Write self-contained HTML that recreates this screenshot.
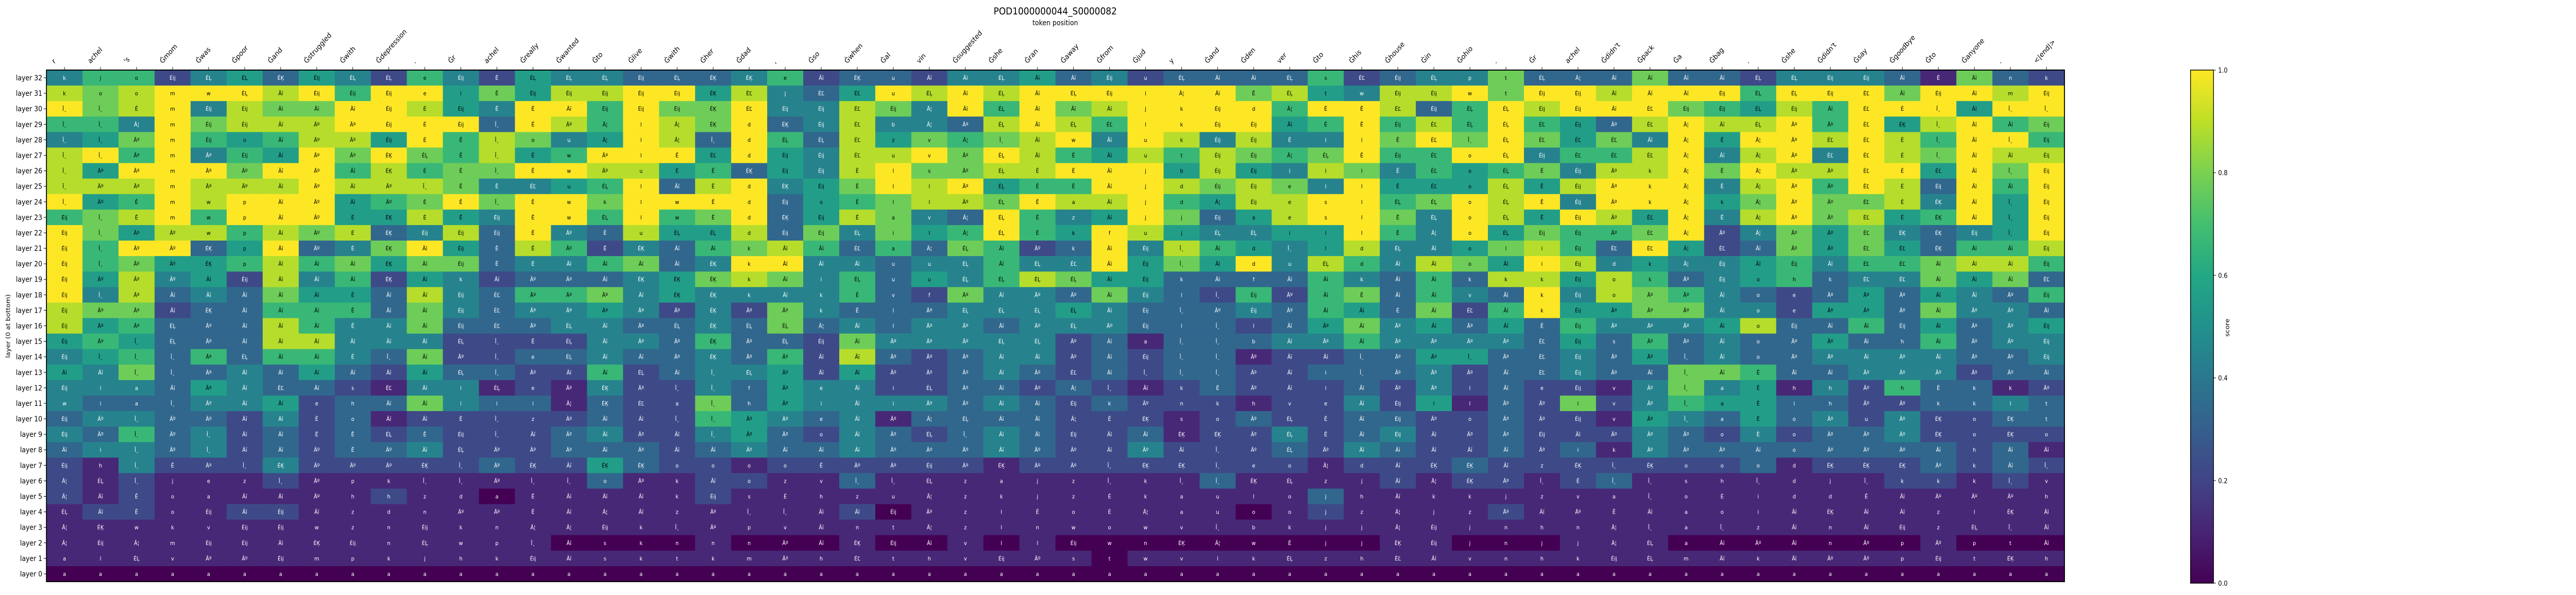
<!DOCTYPE html>
<html><head><meta charset="utf-8">
<style>
html,body{margin:0;padding:0;background:#fff;overflow:hidden;width:100%;height:100%;}
svg{display:block;width:100vw;height:100vh;}
text{font-family:"DejaVu Sans","Liberation Sans",sans-serif;}
</style></head>
<body>
<svg id="chart" viewBox="0 0 5600 1155" preserveAspectRatio="none" xmlns="http://www.w3.org/2000/svg">
<text x="2294" y="28" font-size="19" text-anchor="middle" fill="#000">POD1000000044_S0000082</text>
<text x="2294" y="49" font-size="14" text-anchor="middle" fill="#000">token position</text>
<text x="0" y="0" font-size="13" text-anchor="middle" fill="#000" transform="translate(22,633) rotate(-90)">layer (0 at bottom)</text>
<g id="cells"></g>
<g id="xticks"></g>
<g id="yticks"></g>
<rect x="101" y="136" width="4387" height="993" fill="none" stroke="#000" stroke-width="2"/>
<defs><linearGradient id="vir" x1="0" y1="1" x2="0" y2="0"></linearGradient></defs>
<g id="cbar"></g>
</svg>
<script>
const tokens=["r","achel","'s","Ġmom","Ġwas","Ġpoor","Ġand","Ġstruggled","Ġwith","Ġdepression",".","Ġr","achel","Ġreally","Ġwanted","Ġto","Ġlive","Ġwith","Ġher","Ġdad",",","Ġso","Ġwhen","Ġal","vin","Ġsuggested","Ġshe","Ġran","Ġaway","Ġfrom","Ġjud","y","Ġand","Ġden","ver","Ġto","Ġhis","Ġhouse","Ġin","Ġohio",".","Ġr","achel","Ġdidn't","Ġpack","Ġa","Ġbag",".","Ġshe","Ġdidn't","Ġsay","Ġgoodbye","Ġto","Ġanyone",".","<|end|>"];
const layers=[32,31,30,29,28,27,26,25,24,23,22,21,20,19,18,17,16,15,14,13,12,11,10,9,8,7,6,5,4,3,2,1,0];
const colorTicks=[0,0.2,0.4,0.6,0.8,1.0];
// score levels (0..9 maps to 0..1), one array per token column, rows layer 32 -> layer 0
const scoreLevels=[
[4,8,9,6,4,8,8,8,9,6,9,9,9,9,9,8,8,5,4,5,4,4,3,4,3,2,2,2,1,1,1,1,0],
[6,7,7,6,5,9,5,8,5,7,7,6,6,5,4,7,5,6,5,4,4,3,4,3,4,1,1,1,2,1,1,1,0],
[6,8,8,4,7,6,9,8,6,8,5,9,7,8,8,7,6,5,6,7,4,3,4,6,4,4,2,2,2,1,1,1,0],
[2,9,9,9,9,9,9,9,9,9,8,9,5,4,3,2,3,3,3,3,3,3,3,3,3,2,1,1,1,1,1,1,0],
[4,9,4,7,6,4,9,8,8,6,8,3,5,5,4,3,3,3,6,3,5,4,3,4,4,2,1,1,1,1,1,1,0],
[5,9,8,8,5,6,7,8,9,9,6,5,6,2,3,3,3,3,3,4,4,4,2,2,2,2,1,1,2,1,1,1,0],
[3,8,7,8,6,5,9,8,9,9,8,9,8,8,7,6,8,8,6,3,3,5,4,3,3,4,2,1,2,1,1,1,0],
[5,9,7,8,8,9,9,9,9,9,7,3,6,4,5,6,6,8,6,5,3,2,2,2,2,2,1,1,1,1,1,1,0],
[4,6,9,9,8,7,6,8,5,5,8,4,7,6,5,6,4,4,4,3,2,3,3,3,3,2,1,1,1,1,1,1,0],
[2,9,9,9,5,9,8,8,6,5,3,7,5,2,3,3,4,4,3,2,1,3,1,2,3,2,1,2,1,1,1,1,0],
[6,9,8,9,9,7,6,8,7,8,4,9,7,5,8,7,7,4,7,5,4,7,2,3,4,2,1,1,1,1,1,1,0],
[4,5,5,9,6,6,7,7,9,5,8,5,7,4,4,4,3,2,2,3,4,4,2,2,2,2,1,1,1,1,1,1,0],
[2,7,4,3,8,8,7,4,7,4,3,3,3,2,3,3,3,2,2,3,1,3,2,2,2,3,1,0,1,1,1,1,0],
[5,5,9,9,7,5,9,4,9,9,9,8,4,3,6,4,3,2,3,2,2,3,2,2,2,2,1,1,1,1,1,1,0],
[4,8,9,8,4,6,9,5,9,9,4,6,4,3,6,4,4,2,3,2,1,1,2,3,3,2,1,1,1,1,0,1,0],
[4,8,6,6,5,9,8,6,7,6,3,2,6,3,7,5,4,4,4,6,4,3,3,4,3,5,3,1,1,1,0,1,0],
[3,9,9,9,9,9,8,9,9,9,8,4,7,4,4,4,3,4,3,2,2,2,2,2,3,3,1,1,1,1,0,1,0],
[3,9,7,8,8,9,5,3,9,6,5,3,3,5,5,2,3,3,3,3,2,2,2,2,2,2,1,1,1,1,0,1,0],
[3,5,7,7,3,5,6,8,9,7,5,6,4,7,4,4,4,6,4,4,4,7,6,4,3,2,2,2,1,1,1,1,0],
[4,8,9,9,9,9,3,9,9,9,8,7,9,8,4,2,3,3,3,4,3,3,5,5,4,1,2,1,1,1,0,1,0],
[6,4,4,3,6,5,5,4,3,3,3,8,9,7,4,7,7,3,6,5,5,5,4,3,3,2,1,1,1,1,0,1,0],
[2,3,4,4,3,4,4,5,5,5,7,6,4,4,4,4,3,2,2,2,4,4,3,2,3,2,1,1,1,1,0,1,0],
[3,5,8,8,8,8,8,7,6,8,4,3,4,6,6,3,4,7,8,5,4,4,4,4,4,2,3,1,2,1,1,1,0],
[3,9,7,4,5,8,9,9,7,7,7,6,3,3,3,3,3,4,3,2,2,4,1,3,3,2,1,1,0,1,0,1,0],
[2,8,4,4,7,9,7,8,8,4,5,3,4,5,2,3,4,4,2,2,2,4,3,2,3,2,1,1,1,1,0,1,0],
[4,9,9,3,6,7,7,9,8,3,6,7,4,4,7,4,4,4,3,3,3,3,3,3,3,2,1,1,1,1,1,1,0],
[4,8,6,8,7,9,8,5,7,9,9,6,6,6,4,4,3,4,4,4,3,4,3,4,4,1,1,1,1,1,0,1,0],
[5,9,9,9,8,8,8,6,9,6,6,2,4,8,4,4,4,4,4,3,2,3,3,3,3,2,1,1,1,1,1,1,0],
[3,9,7,8,9,6,9,6,8,4,5,3,4,7,3,5,4,2,2,2,3,2,2,2,2,2,1,1,1,1,0,1,0],
[4,9,8,6,4,5,9,9,8,5,9,9,9,5,7,4,4,3,3,3,2,3,2,2,2,2,1,1,1,1,0,0,0],
[2,9,9,9,9,8,9,9,9,9,8,4,5,5,4,3,3,1,2,2,1,2,2,3,4,2,1,1,1,1,0,1,0],
[3,9,9,9,8,6,5,8,6,7,5,8,7,3,3,3,3,3,3,3,2,2,1,1,2,2,1,1,1,1,0,1,0],
[3,9,9,9,4,8,8,7,5,3,4,6,5,3,2,3,3,3,3,3,3,2,2,2,2,2,3,1,1,1,0,1,0],
[3,7,9,9,8,7,5,8,8,5,4,5,9,3,6,4,2,3,1,2,2,1,3,2,2,2,1,1,0,1,0,1,0],
[3,8,6,5,4,6,4,7,8,8,5,4,4,3,2,3,3,4,2,2,2,2,2,4,3,2,1,1,1,1,0,1,0],
[6,5,9,6,4,7,8,4,9,9,5,5,8,6,6,6,5,4,2,3,2,2,2,2,2,1,1,3,2,1,0,1,0],
[2,4,9,9,9,9,7,9,9,9,9,8,6,4,7,5,7,6,3,3,3,4,3,3,4,2,1,1,1,1,0,1,0],
[3,8,8,6,7,6,4,5,6,7,6,4,4,3,3,3,4,4,3,3,2,2,3,4,3,2,2,1,1,1,1,1,0],
[4,8,3,8,9,6,6,5,7,4,4,4,8,6,6,7,5,4,5,4,4,5,2,2,2,2,1,1,1,1,1,1,0],
[4,9,6,6,7,9,5,5,9,9,9,5,7,3,4,2,3,4,5,2,2,1,2,2,2,3,2,1,1,1,0,1,0],
[7,7,9,9,9,9,6,8,8,8,5,7,5,8,3,6,5,4,3,3,3,3,3,3,3,2,2,1,2,1,0,1,0],
[3,9,8,6,7,4,7,5,9,5,7,8,9,8,9,9,3,3,3,3,2,2,2,2,2,2,1,1,1,1,0,1,0],
[3,9,9,5,5,6,4,8,4,9,6,6,8,5,4,5,6,5,4,4,2,7,2,2,3,2,2,1,1,1,1,1,0],
[3,8,9,3,7,6,8,9,9,8,6,3,4,8,8,5,4,3,3,3,1,2,1,2,1,2,3,1,1,1,1,1,0],
[7,9,9,8,4,8,8,9,9,5,7,9,5,6,7,7,4,6,5,3,4,4,5,4,4,2,1,1,1,1,1,1,0],
[3,9,7,9,9,9,9,9,9,9,9,5,4,3,6,7,4,3,3,7,7,6,4,3,3,2,1,1,1,1,0,1,0],
[3,9,6,8,5,4,7,4,5,4,2,2,4,4,4,4,5,4,4,7,4,5,3,2,3,2,1,1,1,1,0,1,0],
[2,6,5,8,9,8,9,8,7,8,4,3,5,5,3,4,8,3,3,6,5,5,5,4,3,3,1,1,1,1,0,1,0],
[4,9,8,9,9,9,8,9,9,9,7,7,6,6,2,2,3,3,3,3,1,3,3,2,3,1,1,1,1,1,0,1,0],
[4,9,6,6,8,4,8,6,7,7,5,5,4,3,3,5,3,5,4,3,4,3,4,3,3,2,1,1,1,1,0,1,0],
[4,9,9,9,9,9,9,9,7,8,7,7,6,4,5,5,6,3,4,4,2,2,2,3,3,2,1,1,1,1,0,1,0],
[3,7,9,5,8,8,9,8,8,5,4,5,6,4,3,3,3,3,4,4,6,2,4,4,3,2,2,1,1,1,0,1,0],
[1,9,9,8,6,7,5,3,4,6,3,3,7,7,5,7,5,6,4,4,3,3,2,2,3,3,2,1,1,1,1,1,0],
[7,9,5,9,9,9,9,9,9,9,4,6,8,5,4,4,3,3,3,2,3,3,2,2,2,2,1,1,1,1,0,1,0],
[3,8,9,6,9,8,7,6,5,5,5,6,8,7,3,4,4,4,3,3,1,4,3,2,3,3,2,1,1,1,0,1,0],
[2,9,9,7,6,8,9,9,9,9,9,8,6,3,6,3,5,4,4,3,2,3,3,2,1,2,1,1,1,1,0,1,0]
];
// cell annotations per token column, rows layer 32 -> layer 0
const cellText=[
"k,k,Î¸,Î¸,Î¸,Î¸,Î¸,Î¸,Î¸,Éij,Éij,Éij,Éij,Éij,Éij,Éij,Éij,Éij,Éij,Âĭ,Éij,w,Éij,Éij,Âĭ,Éij,Ā¦,Ā¦,ÉĻ,Ā¦,Ā¦,a,a",
"j,o,Î¸,Î¸,Î¸,Î¸,Āº,Āº,Āº,Î¸,Î¸,Î¸,Î¸,Āº,Î¸,Āº,Āº,Āº,Î¸,Âĭ,i,i,Āº,Āº,i,h,ÉĻ,Âĭ,Âĭ,ÉĶ,Éij,l,a",
"o,o,Ê,Ā¦,Āº,Āº,Āº,Āº,Ê,Ê,Āº,Āº,Āº,Āº,Āº,Āº,Āº,Î¸,Î¸,Î¸,a,a,Î¸,Î¸,Î¸,Î¸,Î¸,Ê,Ê,w,Ā¦,ÉĻ,a",
"Éij,m,m,m,m,m,m,m,m,m,Āº,Āº,Āº,Āº,Âĭ,Âĭ,ÉĻ,ÉĻ,Î¸,Î¸,Âĭ,Î¸,Āº,Āº,Āº,Ê,j,o,o,k,m,v,a",
"ÉĻ,w,Éij,Éij,Éij,Āº,Āº,Āº,w,w,w,ÉĶ,ÉĶ,Âĭ,Âĭ,ÉĶ,Āº,Āº,Āº,Āº,Āº,Āº,Āº,Î¸,Î¸,Āº,e,a,Éij,v,Éij,Āº,a",
"ÉĻ,ÉĻ,Éij,Éij,o,Éij,Āº,Āº,p,p,p,p,p,Éij,Âĭ,Âĭ,Âĭ,Âĭ,ÉĻ,Âĭ,Âĭ,Âĭ,Âĭ,Âĭ,Âĭ,Î¸,z,Âĭ,Âĭ,Éij,Éij,Āº,a",
"ÉĶ,Âĭ,Âĭ,Âĭ,Âĭ,Âĭ,Âĭ,Âĭ,Âĭ,Âĭ,Âĭ,Âĭ,Âĭ,Âĭ,Âĭ,Âĭ,Âĭ,Âĭ,Âĭ,Âĭ,ÉĽ,Âĭ,Âĭ,Âĭ,Âĭ,ÉĶ,Î¸,Âĭ,Éij,Éij,Âĭ,Éij,a",
"Éij,Éij,Âĭ,Āº,Āº,Āº,Āº,Āº,Āº,Āº,Āº,Āº,Âĭ,Âĭ,Âĭ,Âĭ,Âĭ,Âĭ,Âĭ,Âĭ,Âĭ,e,Ê,Ê,Āº,Āº,Āº,Āº,Âĭ,w,ÉĶ,m,a",
"ÉĻ,Éij,Âĭ,Āº,Āº,Āº,Âĭ,Âĭ,Âĭ,É,É,É,Âĭ,Âĭ,Ê,Ê,Ê,Âĭ,Ê,Âĭ,s,h,o,Ê,Ê,Āº,p,h,z,z,Éij,p,a",
"ÉĻ,Éij,Éij,Éij,Éij,ÉĶ,ÉĶ,Āº,Āº,ÉĶ,ÉĶ,ÉĶ,ÉĶ,ÉĶ,Âĭ,Âĭ,Âĭ,Âĭ,Î¸,Âĭ,ÉĽ,Âĭ,Âĭ,ÉĻ,Āº,Āº,k,h,d,n,n,k,a",
"e,e,É,É,É,ÉĻ,É,Î¸,É,É,Éij,Âĭ,Âĭ,Âĭ,Âĭ,Âĭ,Âĭ,Âĭ,Âĭ,Âĭ,Âĭ,Âĭ,Âĭ,Ê,Âĭ,ÉĶ,Î¸,z,n,Éij,ÉĻ,j,a",
"Éij,i,Éij,Éij,Ê,Ê,Ê,Ê,Ê,Ê,Éij,Éij,Éij,k,Éij,Éij,Éij,ÉĻ,Āº,ÉĻ,i,i,Ê,Éij,ÉĻ,Î¸,Î¸,d,Āº,k,w,h,a",
"Ê,Ê,Ê,Î¸,Î¸,Î¸,Î¸,Ê,Î¸,Éij,Éij,Ê,Ê,Âĭ,ÉĽ,ÉĽ,ÉĽ,Î¸,Î¸,Î¸,ÉĻ,i,Î¸,Î¸,Āº,Āº,Āº,a,Āº,n,p,k,a",
"ÉĻ,Éij,Ê,Ê,o,Ê,Ê,ÉĽ,Ê,Ê,Ê,Ê,Ê,Āº,Āº,Āº,Āº,Ê,e,Āº,e,i,z,Âĭ,Āº,ÉĶ,Î¸,Ê,Ê,Ā¦,Î¸,Éij,a",
"ÉĻ,Éij,Âĭ,Āº,u,w,w,u,w,w,Āº,Āº,Âĭ,Āº,Āº,Āº,ÉĻ,ÉĻ,ÉĻ,Âĭ,Āº,Ā¦,Āº,Āº,Āº,Âĭ,Î¸,Âĭ,Âĭ,Ā¦,Âĭ,Âĭ,a",
"ÉĻ,Éij,Éij,Ā¦,Ā¦,Āº,Āº,ÉĻ,k,ÉĻ,Ê,Ê,Âĭ,Âĭ,Āº,Āº,Âĭ,Âĭ,Âĭ,Âĭ,ÉĶ,ÉĶ,Âĭ,Âĭ,Âĭ,ÉĶ,o,Âĭ,Ā¦,Éij,s,s,a",
"Éij,Éij,Éij,l,l,l,u,l,l,l,u,ÉĶ,Âĭ,ÉĶ,Âĭ,Āº,Āº,Āº,Âĭ,ÉĻ,Āº,ÉĽ,Âĭ,Āº,Āº,ÉĶ,Āº,Âĭ,Âĭ,k,k,k,a",
"ÉĻ,Éij,Éij,Ā¦,Ā¦,Ê,Ê,Âĭ,w,w,ÉĻ,Âĭ,Âĭ,ÉĶ,ÉĶ,Āº,ÉĻ,Āº,Āº,Âĭ,Î¸,a,Î¸,Âĭ,Âĭ,o,k,k,z,Î¸,n,t,a",
"ÉĶ,ÉĶ,ÉĶ,ÉĶ,Î¸,ÉĽ,Ê,Ê,Ê,Ê,ÉĻ,Âĭ,ÉĶ,ÉĶ,ÉĶ,ÉĶ,ÉĶ,ÉĶ,ÉĶ,Î¸,Î¸,Î¸,Î¸,Î¸,Âĭ,o,Âĭ,Éij,Āº,Āº,n,k,a",
"ÉĶ,ÉĽ,ÉĽ,d,d,d,ÉĶ,d,d,d,d,k,k,k,k,Āº,ÉĻ,Āº,Āº,ÉĻ,f,h,Āº,Āº,Āº,o,o,s,Î¸,p,n,m,a",
"e,j,Éij,ÉĶ,ÉĻ,Éij,Éij,ÉĶ,Éij,ÉĶ,Éij,Âĭ,Âĭ,Âĭ,Âĭ,Āº,ÉĻ,ÉĻ,Āº,Āº,Āº,Āº,Āº,Āº,Âĭ,o,z,É,Î¸,v,Āº,Āº,a",
"Âĭ,ÉĽ,Éij,Éij,ÉĻ,Éij,Éij,Éij,o,Éij,Éij,Âĭ,Âĭ,i,k,k,Ā¦,Éij,Âĭ,Âĭ,e,i,e,o,Âĭ,Ê,v,h,Âĭ,Âĭ,Âĭ,h,a",
"ÉĶ,ÉĽ,ÉĽ,ÉĽ,ÉĽ,ÉĽ,Ê,Ê,Ê,Ê,ÉĻ,ÉĽ,Âĭ,ÉĻ,Ê,Ê,Âĭ,Âĭ,Âĭ,Âĭ,Âĭ,Âĭ,Âĭ,Âĭ,Âĭ,Āº,Î¸,z,Âĭ,n,ÉĶ,ÉĽ,a",
"u,u,Éij,b,z,u,l,l,l,a,i,a,u,u,v,l,l,Āº,Āº,Āº,i,i,Āº,Āº,Āº,Āº,Î¸,u,Éij,t,Éij,t,a",
"Âĭ,ÉĻ,Ā¦,Ā¦,v,v,s,l,l,v,l,Ā¦,u,u,f,Āº,Āº,Āº,Āº,Āº,ÉĻ,Āº,Ā¦,ÉĻ,Āº,Éij,ÉĻ,Ā¦,Āº,Ā¦,Âĭ,h,a",
"Âĭ,Âĭ,Âĭ,Āº,Ā¦,Āº,Āº,Āº,Āº,Ā¦,Ā¦,ÉĻ,ÉĻ,ÉĻ,Āº,ÉĻ,Āº,Āº,Āº,Āº,Āº,Āº,ÉĻ,Î¸,Āº,Āº,z,z,z,z,v,v,a",
"ÉĻ,ÉĻ,ÉĻ,ÉĻ,Î¸,ÉĻ,ÉĻ,ÉĻ,ÉĻ,ÉĻ,ÉĻ,Âĭ,Âĭ,ÉĻ,Âĭ,ÉĻ,Âĭ,ÉĻ,Âĭ,Âĭ,Âĭ,Âĭ,Âĭ,Âĭ,Âĭ,ÉĶ,a,k,l,l,l,Éij,a",
"Âĭ,Âĭ,Âĭ,Âĭ,Âĭ,Âĭ,Ê,Ê,Ê,Ê,Ê,Āº,ÉĻ,ÉĻ,Āº,ÉĻ,Āº,ÉĻ,Âĭ,Āº,Āº,Âĭ,Âĭ,Âĭ,Āº,Āº,j,j,Ê,n,l,Āº,a",
"Âĭ,ÉĻ,Âĭ,ÉĻ,w,Ê,Ê,Ê,a,z,k,k,ÉĽ,ÉĻ,Āº,ÉĻ,ÉĻ,Āº,Āº,ÉĽ,Ā¦,Éij,Ā¦,Éij,Āº,Āº,z,z,o,w,Éij,s,a",
"Éij,Éij,Âĭ,ÉĽ,Âĭ,Âĭ,Âĭ,Âĭ,Âĭ,Âĭ,f,Âĭ,Âĭ,Âĭ,Âĭ,Âĭ,Āº,Âĭ,Âĭ,Âĭ,Î¸,k,Ê,Âĭ,Âĭ,Î¸,Î¸,É,É,o,w,t,a",
"u,i,j,l,u,u,j,j,j,j,u,Éij,Éij,Éij,Éij,Éij,Éij,a,Éij,Î¸,Âĭ,Āº,ÉĶ,Âĭ,Āº,ÉĶ,k,k,Ā¦,w,n,w,a",
"ÉĻ,Ā¦,k,k,k,t,b,d,d,j,j,Î¸,Î¸,k,l,Î¸,l,Î¸,Î¸,Î¸,k,n,s,ÉĶ,Âĭ,ÉĶ,Î¸,a,a,v,ÉĶ,v,a",
"Âĭ,Âĭ,Éij,Éij,Éij,Éij,Éij,Éij,Ā¦,Éij,ÉĻ,Âĭ,Âĭ,Âĭ,Î¸,Āº,Î¸,Î¸,Î¸,Î¸,Ê,k,o,ÉĶ,Î¸,Î¸,Î¸,u,u,Î¸,Ā¦,l,a",
"Âĭ,Ê,d,Éij,Éij,Éij,Éij,Éij,Éij,a,ÉĻ,d,d,f,Éij,Éij,l,b,Āº,Āº,Āº,h,Āº,Āº,Āº,e,ÉĶ,l,o,b,w,k,a",
"ÉĻ,ÉĻ,Ā¦,Âĭ,Ê,Ā¦,i,e,e,e,i,Î¸,u,Âĭ,Āº,Āº,Âĭ,Âĭ,Âĭ,Âĭ,Âĭ,v,ÉĻ,ÉĻ,ÉĻ,o,ÉĻ,o,o,k,Ê,ÉĻ,a",
"s,t,Ê,Ê,l,ÉĻ,l,l,s,s,l,l,ÉĻ,Âĭ,Âĭ,Âĭ,Āº,Āº,Âĭ,i,i,e,Ê,Ê,Āº,Ā¦,z,j,j,j,j,z,a",
"ÉĽ,w,Ê,Ê,l,Ê,l,l,l,l,l,d,d,k,Ê,Âĭ,Âĭ,Âĭ,Î¸,Î¸,Âĭ,Âĭ,Âĭ,Âĭ,Âĭ,d,j,h,z,j,j,h,a",
"Éij,Éij,ÉĽ,Éij,Ê,Éij,Ê,Ê,ÉĻ,Ê,Ê,ÉĻ,Âĭ,Âĭ,Âĭ,É,Āº,Āº,Āº,Āº,Āº,Éij,Éij,Éij,Âĭ,Âĭ,Âĭ,Âĭ,Ā¦,Ā¦,ÉĶ,ÉĽ,a",
"ÉĻ,Éij,Éij,ÉĽ,ÉĽ,ÉĽ,ÉĽ,ÉĽ,ÉĻ,ÉĻ,Ā¦,Âĭ,Âĭ,Âĭ,Âĭ,Âĭ,Âĭ,Āº,Āº,Āº,Āº,l,Āº,Âĭ,Âĭ,ÉĶ,Ā¦,k,j,Éij,Éij,Âĭ,a",
"p,w,ÉĻ,ÉĻ,Î¸,o,o,o,o,o,o,o,o,k,v,ÉĽ,Āº,Āº,Î¸,Āº,l,l,o,Āº,Âĭ,ÉĶ,ÉĶ,k,z,j,j,v,a",
"t,t,ÉĻ,ÉĻ,ÉĻ,ÉĻ,ÉĻ,ÉĻ,ÉĻ,ÉĻ,ÉĻ,l,Âĭ,k,Âĭ,Âĭ,Âĭ,Āº,Āº,Âĭ,Âĭ,Āº,Āº,Āº,Âĭ,Âĭ,Āº,j,Āº,n,n,n,a",
"ÉĻ,Éij,Éij,ÉĽ,ÉĽ,Éij,Ê,Ê,Ê,Ê,Éij,i,i,k,k,k,Ê,ÉĽ,ÉĽ,ÉĽ,e,Āº,Āº,Éij,Āº,z,Î¸,z,Âĭ,h,j,h,a",
"Ā¦,Éij,Éij,Éij,ÉĽ,ÉĽ,Éij,Éij,Éij,Éij,Éij,Éij,Éij,Éij,Éij,Éij,Éij,Éij,Éij,Éij,Éij,i,Éij,Âĭ,i,ÉĶ,Ê,v,Āº,n,j,k,a",
"Âĭ,Âĭ,Âĭ,Āº,ÉĽ,ÉĽ,Āº,Āº,Āº,Āº,Āº,ÉĽ,d,o,o,Āº,Āº,s,Āº,Āº,v,v,v,Āº,k,Î¸,Î¸,a,Ê,Ā¦,Ā¦,Éij,a",
"Âĭ,Âĭ,ÉĽ,ÉĽ,Âĭ,ÉĽ,k,k,k,ÉĽ,ÉĽ,ÉĽ,k,k,Āº,Āº,Āº,Āº,Āº,Âĭ,Āº,Āº,Āº,Āº,Āº,ÉĶ,Î¸,Î¸,Âĭ,Î¸,ÉĻ,ÉĻ,a",
"Âĭ,Âĭ,Éij,Ā¦,Ā¦,Ā¦,Ā¦,Ā¦,Ā¦,Ā¦,Ā¦,Ā¦,Ā¦,Āº,Āº,Āº,Āº,Āº,Î¸,Î¸,Î¸,Î¸,Î¸,Āº,Āº,o,s,o,a,a,a,m,a",
"Âĭ,Éij,Éij,Âĭ,Ê,Âĭ,Ê,Ê,k,Ê,Āº,ÉĽ,Éij,Éij,Âĭ,Âĭ,Âĭ,Âĭ,Âĭ,Âĭ,a,a,a,o,Āº,o,h,É,o,Î¸,Âĭ,Âĭ,a",
"ÉĻ,ÉĻ,ÉĻ,ÉĻ,Ā¦,Ā¦,Ā¦,Ā¦,Ā¦,Ā¦,Ā¦,Âĭ,Âĭ,o,o,o,o,o,o,Ê,Ê,Ê,Ê,Ê,Âĭ,o,Î¸,i,i,z,Āº,k,a",
"ÉĻ,ÉĻ,Éij,Āº,Āº,Āº,Āº,Āº,Āº,Āº,Āº,Āº,Éij,h,e,e,Éij,Āº,Āº,Âĭ,h,i,o,o,o,d,d,d,Âĭ,Âĭ,Âĭ,Âĭ,a",
"Éij,Éij,Âĭ,Āº,ÉĽ,ÉĽ,Āº,Āº,Āº,Āº,Āº,Āº,Âĭ,k,Āº,Āº,Âĭ,Āº,Āº,Âĭ,h,h,Āº,Āº,Āº,ÉĶ,j,d,ÉĶ,n,n,Āº,a",
"Éij,ÉĽ,ÉĽ,ÉĽ,ÉĽ,ÉĽ,ÉĽ,ÉĽ,ÉĽ,ÉĽ,ÉĽ,ÉĽ,ÉĽ,ÉĽ,Āº,Āº,Âĭ,Âĭ,Âĭ,Āº,Āº,Āº,u,Āº,Āº,ÉĶ,Î¸,Ê,Âĭ,Âĭ,Āº,Āº,a",
"Âĭ,Âĭ,É,ÉĶ,É,É,É,É,É,É,ÉĶ,ÉĽ,ÉĽ,ÉĽ,Āº,Āº,Éij,h,Āº,Āº,h,Āº,Āº,Āº,Āº,ÉĶ,k,Âĭ,Âĭ,Éij,p,p,a",
"Ê,Éij,Î¸,Î¸,Î¸,Î¸,ÉĽ,Éij,ÉĶ,ÉĶ,ÉĶ,ÉĶ,Âĭ,Âĭ,Âĭ,Âĭ,Âĭ,Âĭ,Âĭ,Āº,Ê,k,ÉĶ,ÉĶ,Âĭ,Āº,k,Āº,z,z,Āº,Éij,a",
"Âĭ,Âĭ,Âĭ,Âĭ,Âĭ,Âĭ,Âĭ,Âĭ,Âĭ,Âĭ,Éij,Âĭ,Âĭ,Âĭ,Âĭ,Āº,Āº,Āº,Āº,Āº,k,k,o,o,h,k,k,Āº,l,ÉĻ,p,t,a",
"n,m,Î¸,Âĭ,Î¸,Âĭ,Î¸,Âĭ,Î¸,Î¸,Î¸,Âĭ,Âĭ,Âĭ,Āº,Āº,Āº,Āº,Āº,Āº,k,l,ÉĶ,ÉĶ,Âĭ,Âĭ,Î¸,Āº,ÉĶ,Î¸,t,ÉĶ,a",
"k,Éij,Î¸,Éij,Éij,Éij,Éij,Éij,Éij,Éij,Éij,Éij,Éij,ÉĽ,Éij,Âĭ,Éij,Éij,Éij,Âĭ,Āº,t,t,o,Âĭ,Î¸,v,h,Âĭ,Âĭ,Âĭ,h,a"
];

const NS="http://www.w3.org/2000/svg";
const PL=101,PT=136,PW=4387,PH=993;
const LEVEL_MAX=9;
const colW=PW/tokens.length, rowH=PH/layers.length;
function xCol(i){return PL+i*colW;}
function yRow(j){return PT+j*rowH;}
function norm(level){return level/LEVEL_MAX;}
const stops=[[68,1,84],[72,36,117],[65,68,135],[53,95,141],[42,120,142],[33,145,140],[34,168,132],[68,191,112],[122,209,81],[189,223,38],[253,231,37]];
function viridis(t){t=Math.max(0,Math.min(1,t));const p=t*10,i=Math.min(9,Math.floor(p)),f=p-i;const a=stops[i],b=stops[i+1];return "rgb("+a.map((v,k)=>Math.round(v+(b[k]-v)*f)).join(",")+")";}
function mk(tag,attrs,parent){const e=document.createElementNS(NS,tag);for(const k in attrs)e.setAttribute(k,attrs[k]);parent.appendChild(e);return e;}

const cells=document.getElementById('cells');
scoreLevels.forEach((col,i)=>{
  const texts=cellText[i].split(",");
  col.forEach((lv,j)=>{
    const r=mk('rect',{x:xCol(i).toFixed(2),y:yRow(j).toFixed(2),width:(colW+0.6).toFixed(2),height:(rowH+0.6).toFixed(2),fill:viridis(norm(lv))},cells);
    
    
    const t=mk('text',{x:(xCol(i)+colW/2).toFixed(2),y:(yRow(j)+rowH/2+4).toFixed(2),'font-size':'11','text-anchor':'middle',fill:norm(lv)<0.5?'#fff':'#000'},cells);
    
    
    t.textContent=texts[j]||"";
  });
});

const xt=document.getElementById('xticks');
tokens.forEach((tok,i)=>{
  const cx=xCol(i)+colW/2;
  const l=mk('line',{x1:cx,y1:PT,x2:cx,y2:PT-6,stroke:'#000','stroke-width':'1'},xt);
  
  
  const t=mk('text',{x:0,y:0,'font-size':'14',fill:'#000',transform:'translate('+(cx-22).toFixed(1)+','+(PT-12)+') rotate(-45)'},xt);
  
  
  t.textContent=tok;
});

const yt=document.getElementById('yticks');
layers.forEach((ly,j)=>{
  const cy=yRow(j)+rowH/2;
  const l=mk('line',{x1:PL-6,y1:cy,x2:PL,y2:cy,stroke:'#000','stroke-width':'1'},yt);
  
  
  const t=mk('text',{x:PL-9,y:cy+5,'font-size':'14','text-anchor':'end',fill:'#000'},yt);
  
  
  t.textContent='layer '+ly;
});

const grad=document.getElementById('vir');
for(let k=0;k<=10;k++){mk('stop',{offset:(k*10)+'%','stop-color':viridis(k/10)},grad);}
const cb=document.getElementById('cbar');
const CBX=4762,CBW=50,CBT=136,CBH=996;
const cr=mk('rect',{x:CBX,y:CBT,width:CBW,height:CBH,fill:'url(#vir)',stroke:'#000','stroke-width':'1.5'},cb);


colorTicks.forEach(v=>{
  const y=CBT+CBH*(1-v);
  const l=mk('line',{x1:CBX+CBW,y1:y,x2:CBX+CBW+5,y2:y,stroke:'#000','stroke-width':'1'},cb);
  
  
  const t=mk('text',{x:CBX+CBW+10,y:y+5,'font-size':'13',fill:'#000'},cb);
  
  
  t.textContent=v.toFixed(1);
});
const st=mk('text',{x:0,y:0,'font-size':'13','text-anchor':'middle',fill:'#000',transform:'translate(4846,636) rotate(-90)'},cb);


st.textContent='score';
</script>
</body></html>
